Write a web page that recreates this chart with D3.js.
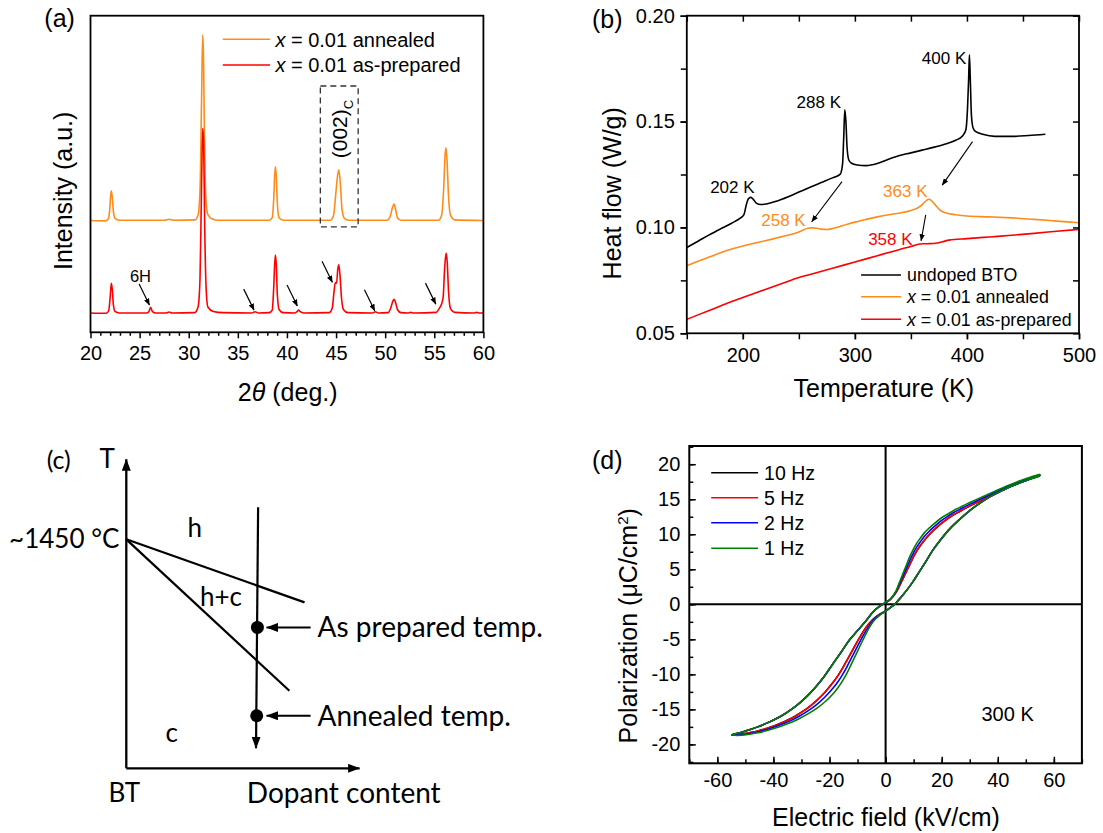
<!DOCTYPE html>
<html>
<head>
<meta charset="utf-8">
<script src="https://cdn.jsdelivr.net/npm/d3@7"></script>
<style>
  body { margin: 0; background: #fff; }
  svg { display: block; }
</style>
</head>
<body>
<svg id="fig" width="1103" height="833"></svg>
<script>
// ---------- (a) XRD patterns: [2θ (deg), intensity (a.u.)] ----------
const xrdAnnealed = [
  [20.0,0.353],[21.5,0.352],[21.8,0.358],[21.95,0.385],[22.05,0.43],[22.12,0.447],[22.22,0.425],[22.32,0.385],[22.5,0.36],[22.9,0.354],
  [27.5,0.354],[28.0,0.357],[28.5,0.354],[30.6,0.355],[30.95,0.37],[31.15,0.45],[31.3,0.72],[31.42,0.939],[31.5,0.88],[31.6,0.62],
  [31.75,0.42],[31.95,0.372],[32.4,0.358],[33.0,0.354],[38.2,0.354],[38.5,0.362],[38.65,0.42],[38.76,0.50],[38.83,0.523],[38.92,0.49],
  [39.02,0.41],[39.2,0.362],[39.6,0.354],[44.4,0.354],[44.75,0.37],[44.95,0.43],[45.1,0.48],[45.28,0.513],[45.45,0.465],[45.6,0.39],
  [45.85,0.36],[46.3,0.354],[50.2,0.354],[50.5,0.365],[50.75,0.395],[50.9,0.405],[51.05,0.39],[51.25,0.362],[51.6,0.354],[55.4,0.354],
  [55.75,0.37],[55.95,0.45],[56.1,0.56],[56.19,0.583],[56.3,0.54],[56.45,0.43],[56.65,0.37],[57.1,0.355],[60.0,0.353]
];
const xrdAsPrepared = [
  [20.0,0.061],[21.6,0.06],[21.85,0.068],[22.0,0.11],[22.12,0.155],[22.22,0.135],[22.32,0.09],[22.5,0.066],[22.9,0.061],
  [25.7,0.061],[25.95,0.066],[26.12,0.079],[26.3,0.066],[26.6,0.061],[27.7,0.061],[28.0,0.064],[28.3,0.061],
  [30.6,0.062],[30.95,0.08],[31.15,0.17],[31.3,0.45],[31.42,0.644],[31.52,0.60],[31.62,0.35],[31.77,0.14],[31.95,0.08],[32.5,0.066],[33.5,0.062],
  [36.4,0.061],[36.75,0.065],[37.1,0.061],[38.2,0.062],[38.5,0.07],[38.65,0.14],[38.76,0.22],[38.83,0.244],[38.92,0.21],[39.02,0.12],[39.2,0.072],[39.6,0.062],
  [40.8,0.061],[41.05,0.066],[41.18,0.070],[41.35,0.065],[41.7,0.061],
  [44.3,0.062],[44.6,0.075],[44.8,0.13],[44.92,0.157],[45.05,0.155],[45.18,0.2],[45.28,0.213],[45.4,0.18],[45.55,0.11],[45.75,0.072],[46.2,0.062],
  [48.7,0.061],[49.0,0.065],[49.3,0.061],[50.3,0.062],[50.55,0.075],[50.78,0.098],[50.9,0.104],[51.05,0.095],[51.25,0.072],[51.6,0.062],
  [52.3,0.061],[52.6,0.063],[52.9,0.061],[55.2,0.063],[55.5,0.075],[55.7,0.086],[55.9,0.11],[56.05,0.20],[56.2,0.250],[56.32,0.22],
  [56.45,0.13],[56.65,0.075],[57.1,0.063],[59.0,0.061],[59.3,0.063],[59.6,0.061],[60.0,0.061]
];
const xrdTickLabels = [20, 25, 30, 35, 40, 45, 50, 55, 60];
// arrow tips marking secondary-phase reflections [2θ, intensity]
const impurityTips = [[26.0,0.086],[36.65,0.070],[41.06,0.083],[44.62,0.158],[48.94,0.068],[55.15,0.089]];
const xrdSeriesNames = ["x = 0.01 annealed", "x = 0.01 as-prepared"];

// ---------- (b) DSC heat flow: [T (K), heat flow (W/g)] ----------
const dscUndoped = [
  [150,0.0905],[160,0.0935],[170,0.0965],[180,0.0993],[190,0.1020],[198,0.1045],[201,0.1060],[203,0.1105],[205,0.1135],[207,0.1142],
  [209,0.1135],[212,0.1115],[216,0.1108],[222,0.1112],[230,0.1124],[240,0.1144],[250,0.1167],[260,0.1190],[270,0.1212],[280,0.1234],
  [287,0.1252],[289,0.1300],[290,0.1420],[291,0.1555],[292,0.1500],[293,0.1380],[294.5,0.1320],[297,0.1303],[302,0.1295],[310,0.1292],
  [320,0.1302],[330,0.1322],[340,0.1340],[350,0.1352],[360,0.1365],[370,0.1378],[380,0.1393],[390,0.1412],[396,0.1432],[399,0.1460],
  [400.5,0.1560],[401.5,0.1700],[402.2,0.1815],[403,0.1700],[404,0.1530],[405.5,0.1470],[408,0.1452],[414,0.1440],[425,0.1430],
  [440,0.1430],[455,0.1434],[470,0.1440]
];
const dscAnnealed = [
  [150,0.0819],[160,0.0840],[170,0.0860],[180,0.0880],[190,0.0898],[200,0.0912],[210,0.0925],[220,0.0937],[230,0.0950],[240,0.0963],
  [248,0.0975],[254,0.0988],[258,0.0996],[262,0.0998],[266,0.0996],[270,0.0992],[275,0.0990],[280,0.0995],[290,0.1010],[300,0.1025],
  [310,0.1038],[320,0.1050],[330,0.1060],[340,0.1068],[350,0.1080],[356,0.1092],[360,0.1108],[364,0.1128],[366,0.1133],[368,0.1128],
  [372,0.1105],[376,0.1082],[380,0.1070],[390,0.1060],[400,0.1054],[420,0.1050],[440,0.1045],[460,0.1038],[480,0.1030],[500,0.1022]
];
const dscAsPrepared = [
  [150,0.0566],[160,0.0587],[170,0.0608],[180,0.0629],[186,0.0642],[200,0.0669],[220,0.0707],[240,0.0745],[248,0.0760],[260,0.0778],
  [280,0.0807],[300,0.0837],[320,0.0866],[340,0.0896],[350,0.0910],[358,0.0922],[365,0.0923],[372,0.0925],[378,0.0932],[384,0.0940],
  [400,0.0947],[420,0.0955],[440,0.0963],[460,0.0972],[480,0.0982],[500,0.0991]
];
const dscTickLabelsX = [200, 300, 400, 500];
const dscTickLabelsY = [0.05, 0.10, 0.15, 0.20];
const dscSeriesNames = ["undoped BTO", "x = 0.01 annealed", "x = 0.01 as-prepared"];
// transition labels: [text, T at text end, baseline value, colour key]
const dscPeakLabels = [
  ["400 K", 399.4, 0.1772, "k"], ["288 K", 287.6, 0.1563, "k"], ["202 K", 210.5, 0.1164, "k"],
  ["258 K", 256.1, 0.1007, "o"], ["363 K", 364.8, 0.1145, "o"], ["358 K", 351.5, 0.0917, "r"]
];
// arrows linking transitions: [[T0, v0], [T1, v1]]
const dscArrows = [
  [[288.5,0.1216],[261.5,0.1027]],
  [[405.0,0.1405],[378.0,0.1200]],
  [[363.2,0.1059],[359.1,0.0937]]
];

// ---------- (c) schematic phase diagram (normalised dopant content, temperature) ----------
const phaseOrigin = [0, 0.741];
const hBoundary = [[0,0.741],[0.764,0.537]];
const cBoundary = [[0,0.741],[0.699,0.251]];
const compositionPath = [[0.565,0.845],[0.556,0.065]];
const processPoints = [[0.562,0.456,"As prepared temp."],[0.559,0.170,"Annealed temp."]];
const regionLabels = [["h",0.293,0.777],["h+c",0.406,0.555],["c",0.195,0.113]];

// ---------- (d) P–E hysteresis loops: [E (kV/cm), P (μC/cm²)] ----------
// branch from +Emax down to E = 0, one per frequency
const desc1_10Hz = [[55.0,18.4],[51.3,17.92],[47.7,17.38],[43.0,16.58],[38.2,15.68],[34.8,14.98],[31.5,14.32],[28.8,13.77],[26.3,13.22],[24.3,12.77],[22.2,12.22],[20.5,11.72],[18.8,11.17],[17.0,10.52],[15.3,9.82],[13.8,9.12],[12.3,8.32],[10.9,7.47],[9.7,6.57],[8.5,5.57],[7.3,4.57],[6.1,3.57],[4.9,2.58],[3.8,1.73],[2.6,1.08],[1.4,0.58],[0,0.24]];
const desc1_5Hz = [[55.0,18.45],[51.3,17.95],[47.7,17.4],[43.0,16.6],[38.2,15.7],[34.8,15.0],[31.5,14.35],[28.8,13.8],[26.3,13.25],[24.3,12.8],[22.2,12.25],[20.5,11.75],[18.8,11.2],[17.0,10.55],[15.3,9.85],[13.8,9.15],[12.3,8.35],[10.9,7.5],[9.7,6.6],[8.5,5.6],[7.3,4.6],[6.1,3.6],[4.9,2.6],[3.8,1.75],[2.6,1.1],[1.4,0.6],[0,0.25]];
const desc1_2Hz = [[55.0,18.5],[51.3,18.02],[47.7,17.5],[43.0,16.72],[38.2,15.85],[34.8,15.2],[31.5,14.57],[28.8,14.05],[26.3,13.52],[24.3,13.1],[22.2,12.57],[20.5,12.12],[18.8,11.6],[17.0,10.97],[15.3,10.32],[13.8,9.67],[12.3,8.87],[10.9,8.05],[9.7,7.15],[8.5,6.15],[7.3,5.05],[6.1,3.95],[4.9,2.85],[3.8,1.87],[2.6,1.15],[1.4,0.62],[0,0.28]];
const desc1_1Hz = [[55.0,18.55],[51.3,18.1],[47.7,17.6],[43.0,16.85],[38.2,16.0],[34.8,15.4],[31.5,14.8],[28.8,14.3],[26.3,13.8],[24.3,13.4],[22.2,12.9],[20.5,12.5],[18.8,12.0],[17.0,11.4],[15.3,10.8],[13.8,10.2],[12.3,9.4],[10.9,8.6],[9.7,7.7],[8.5,6.7],[7.3,5.5],[6.1,4.3],[4.9,3.1],[3.8,2.0],[2.6,1.2],[1.4,0.65],[0,0.3]];
// branch from E = 0 down to -Emax (common to all frequencies)
const desc3Common = [[-2.2,-0.3],[-4.5,-1.1],[-6.9,-2.3],[-9.9,-3.7],[-12.9,-5.1],[-15.8,-6.8],[-18.8,-8.5],[-21.7,-10.2],[-24.7,-11.7],[-27.7,-13.0],[-30.7,-14.1],[-33.6,-15.0],[-36.6,-15.8],[-39.6,-16.45],[-42.6,-17.0],[-45.6,-17.5],[-48.5,-17.9],[-51.6,-18.3],[-54.9,-18.65]];
// branch from -Emax back up to E = 0, one per frequency
const asc3_10Hz = [[-51.5,-18.53],[-48.5,-18.33],[-45.5,-18.08],[-42.6,-17.73],[-39.6,-17.33],[-36.6,-16.83],[-33.6,-16.28],[-30.7,-15.58],[-27.7,-14.78],[-24.7,-13.78],[-21.7,-12.58],[-18.8,-11.18],[-17.0,-10.18],[-15.3,-9.08],[-13.5,-7.78],[-11.7,-6.48],[-9.9,-5.18],[-8.1,-3.98],[-6.6,-3.08],[-5.1,-2.38],[-3.6,-1.83],[-2.2,-1.44],[0,-0.94]];
const asc3_5Hz = [[-51.5,-18.55],[-48.5,-18.35],[-45.5,-18.1],[-42.6,-17.75],[-39.6,-17.35],[-36.6,-16.85],[-33.6,-16.3],[-30.7,-15.6],[-27.7,-14.8],[-24.7,-13.8],[-21.7,-12.6],[-18.8,-11.2],[-17.0,-10.2],[-15.3,-9.1],[-13.5,-7.8],[-11.7,-6.5],[-9.9,-5.2],[-8.1,-4.0],[-6.6,-3.1],[-5.1,-2.4],[-3.6,-1.85],[-2.2,-1.45],[0,-0.95]];
const asc3_2Hz = [[-51.5,-18.62],[-48.5,-18.45],[-45.5,-18.22],[-42.6,-17.9],[-39.6,-17.52],[-36.6,-17.07],[-33.6,-16.57],[-30.7,-15.95],[-27.7,-15.22],[-24.7,-14.35],[-21.7,-13.27],[-18.8,-12.0],[-17.0,-11.05],[-15.3,-10.0],[-13.5,-8.7],[-11.7,-7.3],[-9.9,-5.9],[-8.1,-4.55],[-6.6,-3.5],[-5.1,-2.62],[-3.6,-1.97],[-2.2,-1.52],[0,-0.97]];
const asc3_1Hz = [[-51.5,-18.7],[-48.5,-18.55],[-45.5,-18.35],[-42.6,-18.05],[-39.6,-17.7],[-36.6,-17.3],[-33.6,-16.85],[-30.7,-16.3],[-27.7,-15.65],[-24.7,-14.9],[-21.7,-13.95],[-18.8,-12.8],[-17.0,-11.9],[-15.3,-10.9],[-13.5,-9.6],[-11.7,-8.1],[-9.9,-6.6],[-8.1,-5.1],[-6.6,-3.9],[-5.1,-2.85],[-3.6,-2.1],[-2.2,-1.6],[0,-1.0]];
// branch from E = 0 up to +Emax (common to all frequencies)
const asc1Common = [[1.6,-0.5],[3.2,0],[4.6,0.6],[6.1,1.3],[7.9,2.2],[9.7,3.2],[12.1,4.7],[14.5,6.2],[16.8,7.7],[19.2,9.0],[22.7,10.7],[26.3,12.1],[29.9,13.35],[33.5,14.4],[37.0,15.3],[40.6,16.05],[44.2,16.75],[47.7,17.3],[51.3,17.85],[55.0,18.4]];
const peFrequencies = ["10 Hz", "5 Hz", "2 Hz", "1 Hz"];
const peTickLabelsX = [-60, -40, -20, 0, 20, 40, 60];
const peTickLabelsY = [-20, -15, -10, -5, 0, 5, 10, 15, 20];

// ---------- drawing ----------
const FONT = "'Liberation Sans', Arial, Helvetica, sans-serif";
const FONT_C = "Lato, 'Open Sans', sans-serif";
const ORANGE = "#ff8c1a", RED = "#ff0000";
const fig = d3.select("#fig").attr("font-family", FONT);

const defs = fig.append("defs");
function addHead(id, len, wid) {
  defs.append("marker").attr("id", id)
    .attr("viewBox", `0 0 ${len} ${wid}`)
    .attr("refX", len - 0.5).attr("refY", wid / 2)
    .attr("markerWidth", len).attr("markerHeight", wid)
    .attr("markerUnits", "userSpaceOnUse").attr("orient", "auto")
    .append("path").attr("d", `M0,0L${len},${wid / 2}L0,${wid}Z`).attr("fill", "#000");
}
addHead("headS", 7, 5.5);
addHead("headL", 12, 9);

function styleAxis(g, size) {
  g.attr("font-family", FONT).attr("font-size", size || 20);
  g.select(".domain").remove();
  g.selectAll("line").attr("stroke", "#000").attr("stroke-width", 1.5);
  g.selectAll("text").attr("fill", "#000");
}
function frame(g, b, w) {
  g.append("rect").attr("x", b.l).attr("y", b.t)
    .attr("width", b.r - b.l).attr("height", b.b - b.t)
    .attr("fill", "none").attr("stroke", "#000").attr("stroke-width", w || 1.8);
}
function panelLabel(txt, x, y, family) {
  fig.append("text").attr("x", x).attr("y", y).attr("dy", "0.35em")
    .attr("text-anchor", "middle").attr("font-size", 25)
    .attr("font-family", family || FONT).text(txt);
}
function xLegendText(sel, name) {
  // names starting with "x =" get an italic x
  if (name.startsWith("x ")) {
    sel.append("tspan").attr("font-style", "italic").text("x");
    sel.append("tspan").text(name.slice(1));
  } else sel.text(name);
}

// ===== (a) =====
{
  const b = { l: 90.5, r: 483.4, t: 15.7, b: 332.3 };
  const x = d3.scaleLinear().domain([20, 60]).range([b.l, b.r]);
  const y = d3.scaleLinear().domain([0, 1]).range([b.b, b.t]);
  const g = fig.append("g");
  const line = d3.line().x(d => x(d[0])).y(d => y(d[1])).curve(d3.curveMonotoneX);

  g.append("path").datum(xrdAnnealed).attr("d", line)
    .attr("fill", "none").attr("stroke", ORANGE).attr("stroke-width", 1.6);
  g.append("path").datum(xrdAsPrepared).attr("d", line)
    .attr("fill", "none").attr("stroke", RED).attr("stroke-width", 1.6);

  frame(g, b);
  g.append("g").attr("transform", `translate(0,${b.b})`)
    .call(d3.axisBottom(x).tickValues(d3.range(20, 61).filter(v => v % 5)).tickSize(3.5).tickFormat(""))
    .call(s => styleAxis(s));
  g.append("g").attr("transform", `translate(0,${b.b})`)
    .call(d3.axisBottom(x).tickValues(xrdTickLabels).tickSize(6).tickPadding(8).tickFormat(d => String(d)))
    .call(s => styleAxis(s));

  // dashed box around the (002) reflection
  g.append("rect").attr("x", x(43.4)).attr("y", y(0.778))
    .attr("width", x(47.25) - x(43.4)).attr("height", y(0.333) - y(0.778))
    .attr("fill", "none").attr("stroke", "#333").attr("stroke-width", 1.3)
    .attr("stroke-dasharray", "6,4");
  const t002 = g.append("text")
    .attr("transform", `translate(${x(45.36)},${y(0.642)}) rotate(-90)`)
    .attr("text-anchor", "middle").attr("font-size", 21);
  t002.append("tspan").attr("dy", "0.35em").text("(002)");
  t002.append("tspan").attr("dy", "0.45em").attr("font-size", 13).text("C");

  // 6H label and arrows to weak reflections
  g.append("text").attr("x", x(25.09)).attr("y", y(0.160))
    .attr("text-anchor", "middle").attr("font-size", 16.5).text("6H");
  g.selectAll("line.imp").data(impurityTips).join("line").attr("class", "imp")
    .attr("x1", d => x(d[0]) - 10.3).attr("y1", d => y(d[1]) - 21)
    .attr("x2", d => x(d[0])).attr("y2", d => y(d[1]))
    .attr("stroke", "#000").attr("stroke-width", 1.2).attr("marker-end", "url(#headS)");

  // legend
  const lg = g.append("g");
  [ORANGE, RED].forEach((c, i) => {
    const yy = 39.3 + i * 25.7;
    lg.append("line").attr("x1", 222.8).attr("x2", 270.1).attr("y1", yy).attr("y2", yy)
      .attr("stroke", c).attr("stroke-width", 1.6);
    const t = lg.append("text").attr("x", 275.4).attr("y", yy).attr("dy", "0.36em").attr("font-size", 20);
    xLegendText(t, xrdSeriesNames[i]);
  });

  const tx = g.append("text").attr("x", 287.7).attr("y", 392).attr("dy", "0.36em")
    .attr("text-anchor", "middle").attr("font-size", 25);
  tx.append("tspan").text("2");
  tx.append("tspan").attr("font-style", "italic").text("θ");
  tx.append("tspan").text(" (deg.)");
  g.append("text").attr("transform", "translate(63.1,190.8) rotate(-90)")
    .attr("dy", "0.36em").attr("text-anchor", "middle").attr("font-size", 25).text("Intensity (a.u.)");
  panelLabel("(a)", 59.6, 18.5);
}

// ===== (b) =====
{
  const b = { l: 686.8, r: 1079, t: 15.7, b: 333.3 };
  const x = d3.scaleLinear().domain([150, 500]).range([b.l, b.r]);
  const y = d3.scaleLinear().domain([0.05, 0.20]).range([b.b, b.t]);
  const g = fig.append("g");
  const line = d3.line().x(d => x(d[0])).y(d => y(d[1])).curve(d3.curveMonotoneX);
  const colours = { k: "#000", o: ORANGE, r: RED };

  [[dscUndoped, "#000"], [dscAnnealed, ORANGE], [dscAsPrepared, RED]].forEach(([data, c]) => {
    g.append("path").datum(data).attr("d", line)
      .attr("fill", "none").attr("stroke", c).attr("stroke-width", 1.6);
  });

  frame(g, b);
  const minorX = d3.range(150, 501, 50), minorY = d3.range(0.05, 0.2001, 0.025);
  g.append("g").attr("transform", `translate(0,${b.b})`)
    .call(d3.axisBottom(x).tickValues(minorX).tickSize(6).tickFormat("")).call(s => styleAxis(s));
  g.append("g").attr("transform", `translate(0,${b.b})`)
    .call(d3.axisBottom(x).tickValues(dscTickLabelsX).tickSize(6).tickPadding(8.5).tickFormat(d => String(d)))
    .call(s => styleAxis(s));
  g.append("g").attr("transform", `translate(0,${b.t})`)
    .call(d3.axisTop(x).tickValues(minorX).tickSize(-6).tickFormat("")).call(s => styleAxis(s));
  g.append("g").attr("transform", `translate(${b.l},0)`)
    .call(d3.axisLeft(y).tickValues(minorY).tickSize(6).tickFormat("")).call(s => styleAxis(s));
  g.append("g").attr("transform", `translate(${b.l},0)`)
    .call(d3.axisLeft(y).tickValues(dscTickLabelsY).tickSize(6.5).tickPadding(5.5).tickFormat(d3.format(".2f")))
    .call(s => styleAxis(s));
  g.append("g").attr("transform", `translate(${b.r},0)`)
    .call(d3.axisRight(y).tickValues(minorY).tickSize(-6).tickFormat("")).call(s => styleAxis(s));

  g.selectAll("text.pk").data(dscPeakLabels).join("text").attr("class", "pk")
    .attr("x", d => x(d[1])).attr("y", d => y(d[2])).attr("text-anchor", "end")
    .attr("font-size", 17).attr("fill", d => colours[d[3]]).text(d => d[0]);
  g.selectAll("line.ar").data(dscArrows).join("line").attr("class", "ar")
    .attr("x1", d => x(d[0][0])).attr("y1", d => y(d[0][1]))
    .attr("x2", d => x(d[1][0])).attr("y2", d => y(d[1][1]))
    .attr("stroke", "#000").attr("stroke-width", 1.1).attr("marker-end", "url(#headS)");

  ["#000", ORANGE, RED].forEach((c, i) => {
    const yy = [275, 296.7, 319.3][i];
    g.append("line").attr("x1", 861.1).attr("x2", 901).attr("y1", yy).attr("y2", yy)
      .attr("stroke", c).attr("stroke-width", 1.6);
    const t = g.append("text").attr("x", 907).attr("y", yy).attr("dy", "0.36em").attr("font-size", 17.8);
    xLegendText(t, dscSeriesNames[i]);
  });

  g.append("text").attr("x", 883.8).attr("y", 388).attr("dy", "0.36em")
    .attr("text-anchor", "middle").attr("font-size", 25).text("Temperature (K)");
  g.append("text").attr("transform", "translate(611.7,193.3) rotate(-90)")
    .attr("dy", "0.36em").attr("text-anchor", "middle").attr("font-size", 25).text("Heat flow (W/g)");
  panelLabel("(b)", 607.3, 19);
}

// ===== (c) =====
{
  const x = d3.scaleLinear().domain([0, 1]).range([126.3, 359.6]);
  const y = d3.scaleLinear().domain([0, 1]).range([768.3, 459.3]);
  const g = fig.append("g").attr("font-family", FONT_C).attr("font-size", 26);
  const seg = (pts, w, head) => g.append("line")
    .attr("x1", x(pts[0][0])).attr("y1", y(pts[0][1]))
    .attr("x2", x(pts[1][0])).attr("y2", y(pts[1][1]))
    .attr("stroke", "#000").attr("stroke-width", w)
    .attr("marker-end", head ? "url(#headL)" : null);

  seg([[0, 0], [0, 1]], 2.3, true);
  seg([[0, 0], [1, 0]], 2.3, true);
  seg(hBoundary, 2.2, false);
  seg(cBoundary, 2.2, false);
  seg(compositionPath, 2.2, true);

  processPoints.forEach(p => {
    g.append("circle").attr("cx", x(p[0])).attr("cy", y(p[1])).attr("r", 6.5).attr("fill", "#000");
    seg([[0.79, p[1]], [0.601, p[1]]], 2, true);
    g.append("text").attr("x", x(0.82)).attr("y", y(p[1])).attr("dy", "0.35em")
      .attr("font-size", 28).text(p[2]);
  });
  regionLabels.forEach(r => {
    g.append("text").attr("x", x(r[1])).attr("y", y(r[2])).attr("dy", "0.35em")
      .attr("text-anchor", "middle").text(r[0]);
  });
  g.append("text").attr("x", x(phaseOrigin[0]) - 7).attr("y", y(phaseOrigin[1])).attr("dy", "0.35em")
    .attr("text-anchor", "end").text("~1450 °C");
  g.append("text").attr("x", x(0) - 19).attr("y", y(1)).attr("dy", "0.35em")
    .attr("text-anchor", "middle").text("T");
  g.append("text").attr("x", x(0) - 2).attr("y", y(0) + 25).attr("dy", "0.35em")
    .attr("text-anchor", "middle").text("BT");
  g.append("text").attr("x", x(0.932)).attr("y", y(0) + 25).attr("dy", "0.35em")
    .attr("text-anchor", "middle").attr("font-size", 28).text("Dopant content");
  panelLabel("(c)", 58.7, 460, FONT_C);
}

// ===== (d) =====
{
  const b = { l: 689.3, r: 1081.9, t: 446, b: 763.3 };
  const x = d3.scaleLinear().domain([-70, 70]).range([b.l, b.r]);
  const y = d3.scaleLinear().domain([-22.7, 22.6]).range([b.b, b.t]);
  const g = fig.append("g");
  const line = d3.line().x(d => x(d[0])).y(d => y(d[1])).curve(d3.curveCatmullRom.alpha(0.5));

  const loops = [
    [desc1_10Hz, asc3_10Hz, "#000000"],
    [desc1_5Hz, asc3_5Hz, "#ff0000"],
    [desc1_2Hz, asc3_2Hz, "#0000ff"],
    [desc1_1Hz, asc3_1Hz, "#008000"]
  ];

  // crosshair at origin
  g.append("line").attr("x1", b.l).attr("x2", b.r).attr("y1", y(0)).attr("y2", y(0))
    .attr("stroke", "#000").attr("stroke-width", 2);
  g.append("line").attr("x1", x(0)).attr("x2", x(0)).attr("y1", b.t).attr("y2", b.b)
    .attr("stroke", "#000").attr("stroke-width", 2);

  loops.forEach(([d1, a3, c]) => {
    const pts = d1.concat(desc3Common, a3, asc1Common, [d1[0]]);
    g.append("path").datum(pts).attr("d", line)
      .attr("fill", "none").attr("stroke", c).attr("stroke-width", 1.6);
  });

  frame(g, b, 2);
  g.append("g").attr("transform", `translate(0,${b.b})`)
    .call(d3.axisBottom(x).tickValues(d3.range(-70, 71, 10)).tickSize(-4).tickFormat("")).call(s => styleAxis(s));
  g.append("g").attr("transform", `translate(0,${b.b})`)
    .call(d3.axisBottom(x).tickValues(peTickLabelsX).tickSize(-6.5).tickPadding(10).tickFormat(d => String(d)))
    .call(s => styleAxis(s));
  g.append("g").attr("transform", `translate(${b.l},0)`)
    .call(d3.axisLeft(y).tickValues(d3.range(-22.5, 22.6, 2.5)).tickSize(-4).tickFormat("")).call(s => styleAxis(s));
  g.append("g").attr("transform", `translate(${b.l},0)`)
    .call(d3.axisLeft(y).tickValues(peTickLabelsY).tickSize(-6.5).tickPadding(9).tickFormat(d => String(d)))
    .call(s => styleAxis(s));

  loops.forEach((l, i) => {
    const yy = [472.7, 497.7, 522.7, 548.3][i];
    g.append("line").attr("x1", 711.2).attr("x2", 758.1).attr("y1", yy).attr("y2", yy)
      .attr("stroke", l[2]).attr("stroke-width", 1.6);
    g.append("text").attr("x", 764.1).attr("y", yy).attr("dy", "0.36em")
      .attr("font-size", 19.5).text(peFrequencies[i]);
  });
  g.append("text").attr("x", x(34.2)).attr("y", y(-15.6)).attr("dy", "0.36em")
    .attr("font-size", 20).text("300 K");

  g.append("text").attr("x", 886).attr("y", 816.7).attr("dy", "0.36em")
    .attr("text-anchor", "middle").attr("font-size", 25).text("Electric field (kV/cm)");
  const ty = g.append("text").attr("transform", "translate(627.6,625.8) rotate(-90)")
    .attr("text-anchor", "middle").attr("font-size", 25);
  ty.append("tspan").attr("dy", "0.36em").text("Polarization (μC/cm");
  ty.append("tspan").attr("dy", "-0.55em").attr("font-size", 15).text("2");
  ty.append("tspan").attr("dy", "0.33em").text(")");
  panelLabel("(d)", 607.3, 460);
}
</script>
</body>
</html>
